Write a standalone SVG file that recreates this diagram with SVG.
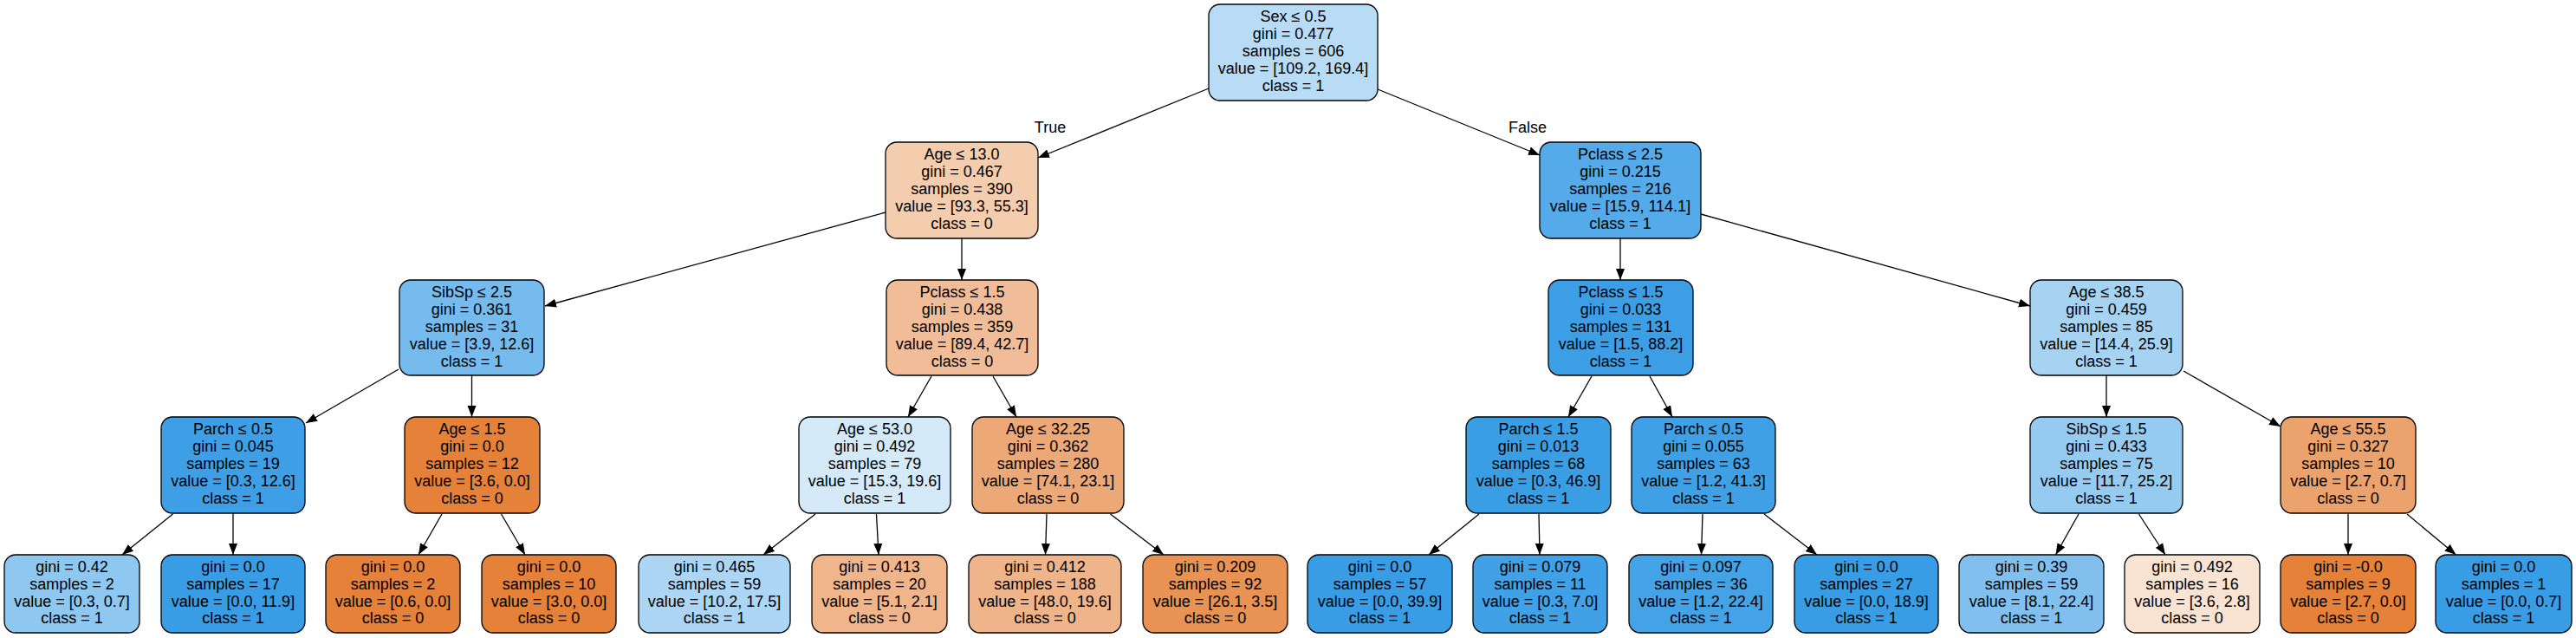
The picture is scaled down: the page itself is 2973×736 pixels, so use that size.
<svg xmlns="http://www.w3.org/2000/svg" width="2973" height="736" viewBox="0 0 2973 736">
<defs>
<style>
.n rect{stroke:#000;stroke-width:1.3}
.n text,.lbl{font-family:"Liberation Sans",Arial,sans-serif;font-size:18px;fill:#000;text-anchor:middle}
.e line{stroke:#000;stroke-width:1.3;marker-end:url(#ah)}
</style>
<marker id="ah" markerWidth="14" markerHeight="11" refX="13" refY="5.5" orient="auto" markerUnits="userSpaceOnUse"><path d="M0,0.5 L13,5.5 L0,10.5 z" fill="#000"/></marker>
</defs>
<rect width="2973" height="736" fill="#fff"/>
<g id="edges" class="e">
<line x1="1395" y1="102" x2="1198" y2="182"/>
<line x1="1590" y1="103" x2="1777" y2="179"/>
<line x1="1022" y1="245" x2="629" y2="353"/>
<line x1="1110" y1="275" x2="1110" y2="323"/>
<line x1="1963" y1="247" x2="2343" y2="353"/>
<line x1="1870" y1="275" x2="1870" y2="323"/>
<line x1="460" y1="426" x2="353" y2="488"/>
<line x1="544.5" y1="433" x2="544.5" y2="481"/>
<line x1="1075" y1="434" x2="1048" y2="481"/>
<line x1="1146" y1="434" x2="1173" y2="481"/>
<line x1="1837" y1="434" x2="1810" y2="481"/>
<line x1="1904" y1="434" x2="1930" y2="481"/>
<line x1="2431" y1="433" x2="2431" y2="481"/>
<line x1="2520" y1="428" x2="2632" y2="492"/>
<line x1="199.5" y1="593" x2="141" y2="640"/>
<line x1="269" y1="592" x2="269" y2="640"/>
<line x1="510" y1="593" x2="483" y2="640"/>
<line x1="578.5" y1="593" x2="606" y2="640"/>
<line x1="941" y1="593" x2="881" y2="640"/>
<line x1="1011.5" y1="593" x2="1014" y2="640"/>
<line x1="1208" y1="593" x2="1206.5" y2="640"/>
<line x1="1281.5" y1="593" x2="1343" y2="640"/>
<line x1="1707" y1="593" x2="1649" y2="640"/>
<line x1="1776" y1="593" x2="1777" y2="640"/>
<line x1="1965" y1="593" x2="1963.5" y2="640"/>
<line x1="2036" y1="593" x2="2097" y2="640"/>
<line x1="2399" y1="593" x2="2372.5" y2="640"/>
<line x1="2468.5" y1="593" x2="2499" y2="640"/>
<line x1="2710" y1="593" x2="2710" y2="640"/>
<line x1="2778" y1="593" x2="2834.5" y2="640"/>
<text class="lbl" x="1212" y="153">True</text>
<text class="lbl" x="1763" y="153">False</text>
</g>
<g id="node0" class="n"><rect x="1395" y="5" width="195" height="111" rx="13" fill="#b9dcf6"/><text><tspan x="1492.5" y="24.5">Sex ≤ 0.5</tspan><tspan x="1492.5" y="44.5">gini = 0.477</tspan><tspan x="1492.5" y="64.5">samples = 606</tspan><tspan x="1492.5" y="84.5">value = [109.2, 169.4]</tspan><tspan x="1492.5" y="104.5">class = 1</tspan></text></g>
<g id="node1" class="n"><rect x="1022" y="164" width="176" height="111" rx="13" fill="#f4ccae"/><text><tspan x="1110" y="183.5">Age ≤ 13.0</tspan><tspan x="1110" y="203.5">gini = 0.467</tspan><tspan x="1110" y="223.5">samples = 390</tspan><tspan x="1110" y="243.5">value = [93.3, 55.3]</tspan><tspan x="1110" y="263.5">class = 0</tspan></text></g>
<g id="node16" class="n"><rect x="1777" y="164" width="186" height="111" rx="13" fill="#55abe9"/><text><tspan x="1870" y="183.5">Pclass ≤ 2.5</tspan><tspan x="1870" y="203.5">gini = 0.215</tspan><tspan x="1870" y="223.5">samples = 216</tspan><tspan x="1870" y="243.5">value = [15.9, 114.1]</tspan><tspan x="1870" y="263.5">class = 1</tspan></text></g>
<g id="node2" class="n"><rect x="461" y="323" width="167" height="110" rx="13" fill="#76bbed"/><text><tspan x="544.5" y="342.5">SibSp ≤ 2.5</tspan><tspan x="544.5" y="362.5">gini = 0.361</tspan><tspan x="544.5" y="382.5">samples = 31</tspan><tspan x="544.5" y="402.5">value = [3.9, 12.6]</tspan><tspan x="544.5" y="422.5">class = 1</tspan></text></g>
<g id="node9" class="n"><rect x="1023" y="323" width="175" height="110" rx="13" fill="#f1bd98"/><text><tspan x="1110.5" y="342.5">Pclass ≤ 1.5</tspan><tspan x="1110.5" y="362.5">gini = 0.438</tspan><tspan x="1110.5" y="382.5">samples = 359</tspan><tspan x="1110.5" y="402.5">value = [89.4, 42.7]</tspan><tspan x="1110.5" y="422.5">class = 0</tspan></text></g>
<g id="node17" class="n"><rect x="1787" y="323" width="167" height="110" rx="13" fill="#3c9fe5"/><text><tspan x="1870.5" y="342.5">Pclass ≤ 1.5</tspan><tspan x="1870.5" y="362.5">gini = 0.033</tspan><tspan x="1870.5" y="382.5">samples = 131</tspan><tspan x="1870.5" y="402.5">value = [1.5, 88.2]</tspan><tspan x="1870.5" y="422.5">class = 1</tspan></text></g>
<g id="node24" class="n"><rect x="2343" y="323" width="176" height="110" rx="13" fill="#a7d3f3"/><text><tspan x="2431" y="342.5">Age ≤ 38.5</tspan><tspan x="2431" y="362.5">gini = 0.459</tspan><tspan x="2431" y="382.5">samples = 85</tspan><tspan x="2431" y="402.5">value = [14.4, 25.9]</tspan><tspan x="2431" y="422.5">class = 1</tspan></text></g>
<g id="node3" class="n"><rect x="186" y="481" width="166" height="111" rx="13" fill="#3e9fe6"/><text><tspan x="269" y="500.5">Parch ≤ 0.5</tspan><tspan x="269" y="520.5">gini = 0.045</tspan><tspan x="269" y="540.5">samples = 19</tspan><tspan x="269" y="560.5">value = [0.3, 12.6]</tspan><tspan x="269" y="580.5">class = 1</tspan></text></g>
<g id="node6" class="n"><rect x="467" y="481" width="156" height="111" rx="13" fill="#e58139"/><text><tspan x="545" y="500.5">Age ≤ 1.5</tspan><tspan x="545" y="520.5">gini = 0.0</tspan><tspan x="545" y="540.5">samples = 12</tspan><tspan x="545" y="560.5">value = [3.6, 0.0]</tspan><tspan x="545" y="580.5">class = 0</tspan></text></g>
<g id="node10" class="n"><rect x="922" y="481" width="175" height="111" rx="13" fill="#d4eaf9"/><text><tspan x="1009.5" y="500.5">Age ≤ 53.0</tspan><tspan x="1009.5" y="520.5">gini = 0.492</tspan><tspan x="1009.5" y="540.5">samples = 79</tspan><tspan x="1009.5" y="560.5">value = [15.3, 19.6]</tspan><tspan x="1009.5" y="580.5">class = 1</tspan></text></g>
<g id="node13" class="n"><rect x="1122" y="481" width="175" height="111" rx="13" fill="#eda877"/><text><tspan x="1209.5" y="500.5">Age ≤ 32.25</tspan><tspan x="1209.5" y="520.5">gini = 0.362</tspan><tspan x="1209.5" y="540.5">samples = 280</tspan><tspan x="1209.5" y="560.5">value = [74.1, 23.1]</tspan><tspan x="1209.5" y="580.5">class = 0</tspan></text></g>
<g id="node18" class="n"><rect x="1692" y="481" width="167" height="111" rx="13" fill="#3a9ee5"/><text><tspan x="1775.5" y="500.5">Parch ≤ 1.5</tspan><tspan x="1775.5" y="520.5">gini = 0.013</tspan><tspan x="1775.5" y="540.5">samples = 68</tspan><tspan x="1775.5" y="560.5">value = [0.3, 46.9]</tspan><tspan x="1775.5" y="580.5">class = 1</tspan></text></g>
<g id="node21" class="n"><rect x="1883" y="481" width="166" height="111" rx="13" fill="#3fa0e6"/><text><tspan x="1966" y="500.5">Parch ≤ 0.5</tspan><tspan x="1966" y="520.5">gini = 0.055</tspan><tspan x="1966" y="540.5">samples = 63</tspan><tspan x="1966" y="560.5">value = [1.2, 41.3]</tspan><tspan x="1966" y="580.5">class = 1</tspan></text></g>
<g id="node25" class="n"><rect x="2343" y="481" width="176" height="111" rx="13" fill="#95caf1"/><text><tspan x="2431" y="500.5">SibSp ≤ 1.5</tspan><tspan x="2431" y="520.5">gini = 0.433</tspan><tspan x="2431" y="540.5">samples = 75</tspan><tspan x="2431" y="560.5">value = [11.7, 25.2]</tspan><tspan x="2431" y="580.5">class = 1</tspan></text></g>
<g id="node28" class="n"><rect x="2632" y="481" width="156" height="111" rx="13" fill="#eca26c"/><text><tspan x="2710" y="500.5">Age ≤ 55.5</tspan><tspan x="2710" y="520.5">gini = 0.327</tspan><tspan x="2710" y="540.5">samples = 10</tspan><tspan x="2710" y="560.5">value = [2.7, 0.7]</tspan><tspan x="2710" y="580.5">class = 0</tspan></text></g>
<g id="node4" class="n"><rect x="5" y="640" width="156" height="90" rx="13" fill="#8ec7f0"/><text><tspan x="83" y="660">gini = 0.42</tspan><tspan x="83" y="679.8">samples = 2</tspan><tspan x="83" y="699.6">value = [0.3, 0.7]</tspan><tspan x="83" y="719.4">class = 1</tspan></text></g>
<g id="node5" class="n"><rect x="186" y="640" width="166" height="90" rx="13" fill="#399de5"/><text><tspan x="269" y="660">gini = 0.0</tspan><tspan x="269" y="679.8">samples = 17</tspan><tspan x="269" y="699.6">value = [0.0, 11.9]</tspan><tspan x="269" y="719.4">class = 1</tspan></text></g>
<g id="node7" class="n"><rect x="376" y="640" width="155" height="90" rx="13" fill="#e58139"/><text><tspan x="453.5" y="660">gini = 0.0</tspan><tspan x="453.5" y="679.8">samples = 2</tspan><tspan x="453.5" y="699.6">value = [0.6, 0.0]</tspan><tspan x="453.5" y="719.4">class = 0</tspan></text></g>
<g id="node8" class="n"><rect x="556" y="640" width="155" height="90" rx="13" fill="#e58139"/><text><tspan x="633.5" y="660">gini = 0.0</tspan><tspan x="633.5" y="679.8">samples = 10</tspan><tspan x="633.5" y="699.6">value = [3.0, 0.0]</tspan><tspan x="633.5" y="719.4">class = 0</tspan></text></g>
<g id="node11" class="n"><rect x="737" y="640" width="175" height="90" rx="13" fill="#acd6f4"/><text><tspan x="824.5" y="660">gini = 0.465</tspan><tspan x="824.5" y="679.8">samples = 59</tspan><tspan x="824.5" y="699.6">value = [10.2, 17.5]</tspan><tspan x="824.5" y="719.4">class = 1</tspan></text></g>
<g id="node12" class="n"><rect x="937" y="640" width="156" height="90" rx="13" fill="#f0b58b"/><text><tspan x="1015" y="660">gini = 0.413</tspan><tspan x="1015" y="679.8">samples = 20</tspan><tspan x="1015" y="699.6">value = [5.1, 2.1]</tspan><tspan x="1015" y="719.4">class = 0</tspan></text></g>
<g id="node14" class="n"><rect x="1118" y="640" width="176" height="90" rx="13" fill="#f0b48a"/><text><tspan x="1206" y="660">gini = 0.412</tspan><tspan x="1206" y="679.8">samples = 188</tspan><tspan x="1206" y="699.6">value = [48.0, 19.6]</tspan><tspan x="1206" y="719.4">class = 0</tspan></text></g>
<g id="node15" class="n"><rect x="1319" y="640" width="167" height="90" rx="13" fill="#e89254"/><text><tspan x="1402.5" y="660">gini = 0.209</tspan><tspan x="1402.5" y="679.8">samples = 92</tspan><tspan x="1402.5" y="699.6">value = [26.1, 3.5]</tspan><tspan x="1402.5" y="719.4">class = 0</tspan></text></g>
<g id="node19" class="n"><rect x="1509" y="640" width="167" height="90" rx="13" fill="#399de5"/><text><tspan x="1592.5" y="660">gini = 0.0</tspan><tspan x="1592.5" y="679.8">samples = 57</tspan><tspan x="1592.5" y="699.6">value = [0.0, 39.9]</tspan><tspan x="1592.5" y="719.4">class = 1</tspan></text></g>
<g id="node20" class="n"><rect x="1700" y="640" width="155" height="90" rx="13" fill="#41a1e6"/><text><tspan x="1777.5" y="660">gini = 0.079</tspan><tspan x="1777.5" y="679.8">samples = 11</tspan><tspan x="1777.5" y="699.6">value = [0.3, 7.0]</tspan><tspan x="1777.5" y="719.4">class = 1</tspan></text></g>
<g id="node22" class="n"><rect x="1880" y="640" width="166" height="90" rx="13" fill="#44a2e6"/><text><tspan x="1963" y="660">gini = 0.097</tspan><tspan x="1963" y="679.8">samples = 36</tspan><tspan x="1963" y="699.6">value = [1.2, 22.4]</tspan><tspan x="1963" y="719.4">class = 1</tspan></text></g>
<g id="node23" class="n"><rect x="2071" y="640" width="166" height="90" rx="13" fill="#399de5"/><text><tspan x="2154" y="660">gini = 0.0</tspan><tspan x="2154" y="679.8">samples = 27</tspan><tspan x="2154" y="699.6">value = [0.0, 18.9]</tspan><tspan x="2154" y="719.4">class = 1</tspan></text></g>
<g id="node26" class="n"><rect x="2261" y="640" width="167" height="90" rx="13" fill="#81c0ee"/><text><tspan x="2344.5" y="660">gini = 0.39</tspan><tspan x="2344.5" y="679.8">samples = 59</tspan><tspan x="2344.5" y="699.6">value = [8.1, 22.4]</tspan><tspan x="2344.5" y="719.4">class = 1</tspan></text></g>
<g id="node27" class="n"><rect x="2452" y="640" width="156" height="90" rx="13" fill="#f9e3d3"/><text><tspan x="2530" y="660">gini = 0.492</tspan><tspan x="2530" y="679.8">samples = 16</tspan><tspan x="2530" y="699.6">value = [3.6, 2.8]</tspan><tspan x="2530" y="719.4">class = 0</tspan></text></g>
<g id="node29" class="n"><rect x="2632" y="640" width="156" height="90" rx="13" fill="#e58139"/><text><tspan x="2710" y="660">gini = -0.0</tspan><tspan x="2710" y="679.8">samples = 9</tspan><tspan x="2710" y="699.6">value = [2.7, 0.0]</tspan><tspan x="2710" y="719.4">class = 0</tspan></text></g>
<g id="node30" class="n"><rect x="2811" y="640" width="157" height="90" rx="13" fill="#399de5"/><text><tspan x="2889.5" y="660">gini = 0.0</tspan><tspan x="2889.5" y="679.8">samples = 1</tspan><tspan x="2889.5" y="699.6">value = [0.0, 0.7]</tspan><tspan x="2889.5" y="719.4">class = 1</tspan></text></g>
</svg>
